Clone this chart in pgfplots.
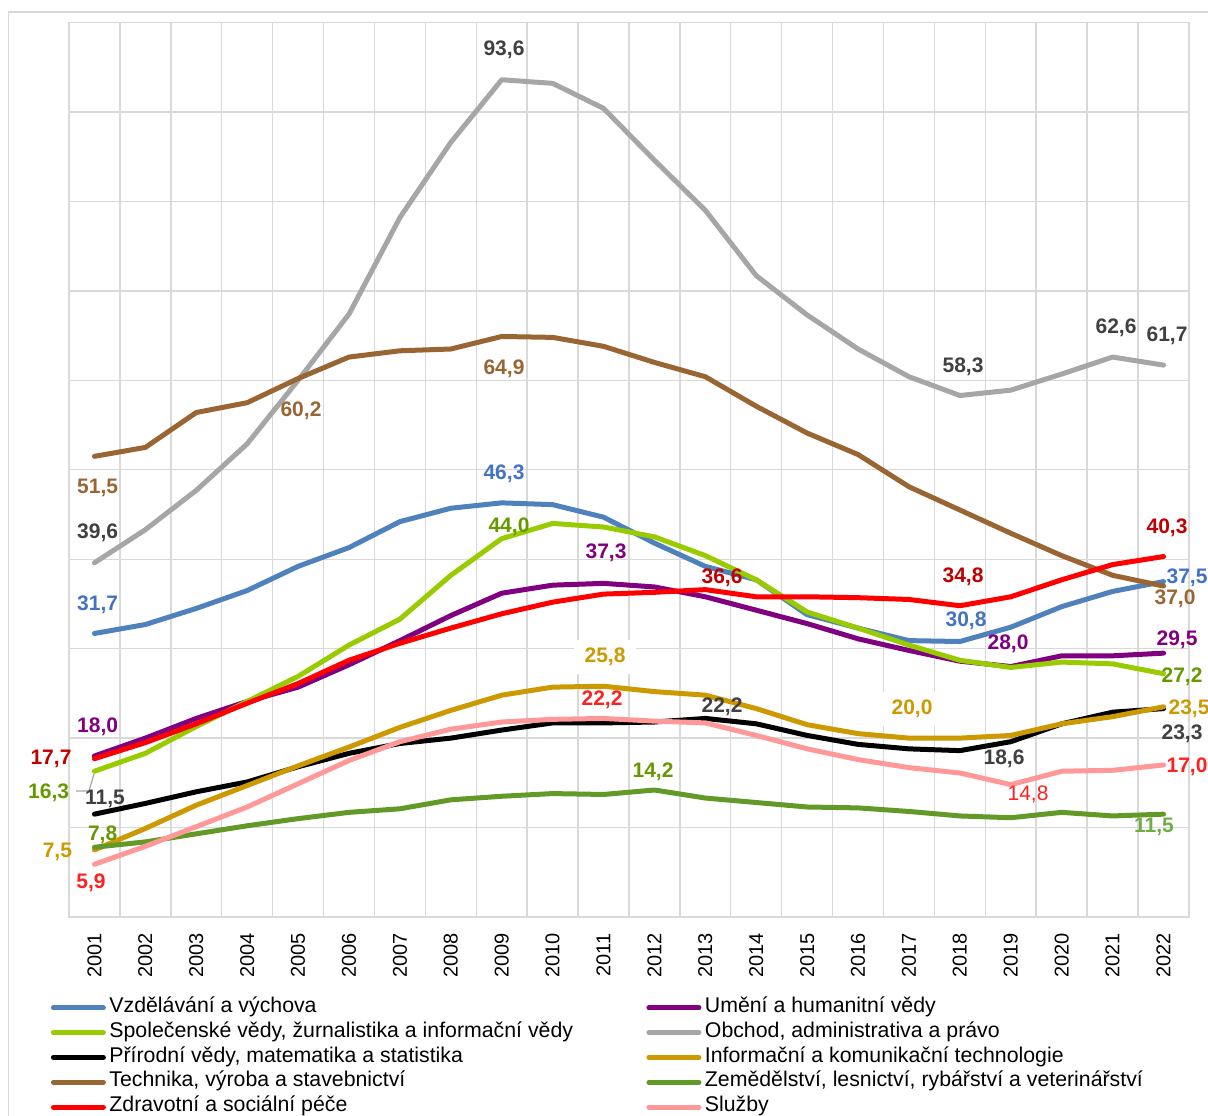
\documentclass[border=0pt]{standalone}
\usepackage{fontspec}
\setmainfont{Liberation Sans}
\usepackage{pgfplots}
\pgfplotsset{compat=1.18}

\definecolor{gridgray}{RGB}{217,217,217}
\definecolor{cBlue}{RGB}{79,129,189}
\definecolor{cPurple}{RGB}{128,0,128}
\definecolor{cLGreen}{RGB}{153,204,0}
\definecolor{cGray}{RGB}{166,166,166}
\definecolor{cBlack}{RGB}{0,0,0}
\definecolor{cGold}{RGB}{204,153,0}
\definecolor{cBrown}{RGB}{153,102,51}
\definecolor{cDGreen}{RGB}{99,153,38}
\definecolor{cRed}{RGB}{255,0,0}
\definecolor{cPink}{RGB}{255,153,153}
\definecolor{lBlue}{RGB}{68,114,196}
\definecolor{lDark}{RGB}{64,64,64}
\definecolor{lOlive}{RGB}{102,153,0}
\definecolor{lDRed}{RGB}{192,0,0}
\definecolor{lRed}{RGB}{255,32,32}
\definecolor{lGreen}{RGB}{112,173,71}

\begin{document}
\begin{tikzpicture}
\path[use as bounding box] (0,0) rectangle (604pt,-557.5pt);
\begin{axis}[
  at={(34.5pt,-11.25pt)}, anchor=north west,
  scale only axis, width=560pt, height=447.25pt,
  xmin=2000.5, xmax=2022.5, ymin=0, ymax=100,
  xtick={2001,...,2022},
  xticklabels={2001,2002,2003,2004,2005,2006,2007,2008,2009,2010,2011,2012,2013,2014,2015,2016,2017,2018,2019,2020,2021,2022},
  xticklabel style={rotate=90, anchor=east, inner sep=0pt, font=\fontsize{10}{12}\selectfont},
  xticklabel shift=8pt,
  minor xtick={2000.5,2001.5,...,2022.5},
  xminorgrids=true, xmajorgrids=false,
  ytick={0,10,...,100}, yticklabels={}, ymajorgrids=true,
  major tick length=0pt, minor tick length=0pt,
  axis line style={draw=gridgray, line width=0.7pt},
  grid style={draw=gridgray, line width=0.7pt},
  minor grid style={draw=gridgray, line width=0.7pt},
  every axis plot/.append style={line width=2.5pt, line join=round, line cap=round, no markers},
  legend columns=2,
  legend cell align=left,
  legend image code/.code={\draw[#1, line width=2.5pt, line cap=round] (0pt,0pt) -- (25pt,0pt);},
  legend style={at={(axis description cs:-0.0165,-0.0872)}, anchor=north west,
    draw=none, fill=none, inner sep=0pt, row sep=0pt,
    font=\fontsize{10.65}{12.6}\selectfont,
    nodes={inner sep=0pt, text height=8.5pt, text depth=3.9pt},
    /tikz/every odd column/.append style={column sep=1.75pt},
    /tikz/every even column/.append style={column sep=0pt}},
]
% Vzdělávání a výchova
\addplot[cBlue] coordinates {(2001,31.7)(2002,32.7)(2003,34.5)(2004,36.5)(2005,39.2)(2006,41.3)(2007,44.2)(2008,45.7)(2009,46.3)(2010,46.1)(2011,44.7)(2012,41.8)(2013,39.2)(2014,37.7)(2015,33.8)(2016,32.3)(2017,30.9)(2018,30.8)(2019,32.4)(2020,34.7)(2021,36.4)(2022,37.5)};
\addlegendentry{\makebox[268.5pt][l]{Vzdělávání a výchova}}
% Umění a humanitní vědy
\addplot[cPurple] coordinates {(2001,18.0)(2002,20.0)(2003,22.2)(2004,24.1)(2005,25.7)(2006,28.2)(2007,30.9)(2008,33.7)(2009,36.2)(2010,37.1)(2011,37.3)(2012,36.9)(2013,35.8)(2014,34.3)(2015,32.8)(2016,31.1)(2017,29.8)(2018,28.6)(2019,28.0)(2020,29.2)(2021,29.2)(2022,29.5)};
\addlegendentry{Umění a humanitní vědy}
% Společenské vědy
\addplot[cLGreen] coordinates {(2001,16.3)(2002,18.3)(2003,21.3)(2004,24.1)(2005,26.9)(2006,30.4)(2007,33.3)(2008,38.2)(2009,42.3)(2010,44.0)(2011,43.6)(2012,42.5)(2013,40.4)(2014,37.7)(2015,34.1)(2016,32.3)(2017,30.4)(2018,28.7)(2019,27.9)(2020,28.5)(2021,28.3)(2022,27.2)};
\addlegendentry{\makebox[268.5pt][l]{Společenské vědy, žurnalistika a informační vědy}}
% Obchod, administrativa a právo
\addplot[cGray] coordinates {(2001,39.6)(2002,43.3)(2003,47.7)(2004,52.9)(2005,60.0)(2006,67.4)(2007,78.2)(2008,86.6)(2009,93.6)(2010,93.2)(2011,90.4)(2012,84.6)(2013,79.0)(2014,71.7)(2015,67.3)(2016,63.5)(2017,60.4)(2018,58.3)(2019,58.9)(2020,60.7)(2021,62.6)(2022,61.7)};
\addlegendentry{Obchod, administrativa a právo}
% Přírodní vědy
\addplot[cBlack] coordinates {(2001,11.5)(2002,12.7)(2003,14.0)(2004,15.1)(2005,16.8)(2006,18.3)(2007,19.4)(2008,20.0)(2009,20.9)(2010,21.7)(2011,21.7)(2012,21.8)(2013,22.2)(2014,21.6)(2015,20.3)(2016,19.3)(2017,18.8)(2018,18.6)(2019,19.6)(2020,21.6)(2021,22.9)(2022,23.3)};
\addlegendentry{\makebox[268.5pt][l]{Přírodní vědy, matematika a statistika}}
% ICT
\addplot[cGold] coordinates {(2001,7.5)(2002,9.9)(2003,12.5)(2004,14.7)(2005,16.9)(2006,19.0)(2007,21.2)(2008,23.1)(2009,24.8)(2010,25.7)(2011,25.8)(2012,25.2)(2013,24.8)(2014,23.3)(2015,21.5)(2016,20.5)(2017,20.0)(2018,20.0)(2019,20.3)(2020,21.6)(2021,22.4)(2022,23.5)};
\addlegendentry{Informační a komunikační technologie}
% Technika
\addplot[cBrown] coordinates {(2001,51.5)(2002,52.5)(2003,56.4)(2004,57.5)(2005,60.2)(2006,62.6)(2007,63.3)(2008,63.5)(2009,64.9)(2010,64.8)(2011,63.8)(2012,62.0)(2013,60.4)(2014,57.1)(2015,54.1)(2016,51.7)(2017,48.1)(2018,45.5)(2019,42.9)(2020,40.4)(2021,38.2)(2022,37.0)};
\addlegendentry{\makebox[268.5pt][l]{Technika, výroba a stavebnictví}}
% Zemědělství
\addplot[cDGreen] coordinates {(2001,7.8)(2002,8.4)(2003,9.3)(2004,10.2)(2005,11.0)(2006,11.7)(2007,12.1)(2008,13.1)(2009,13.5)(2010,13.8)(2011,13.7)(2012,14.2)(2013,13.3)(2014,12.8)(2015,12.3)(2016,12.2)(2017,11.8)(2018,11.3)(2019,11.1)(2020,11.7)(2021,11.3)(2022,11.5)};
\addlegendentry{Zemědělství, lesnictví, rybářství a veterinářství}
% Zdravotní a sociální péče
\addplot[cRed] coordinates {(2001,17.7)(2002,19.5)(2003,21.6)(2004,23.9)(2005,26.1)(2006,28.7)(2007,30.6)(2008,32.3)(2009,33.9)(2010,35.2)(2011,36.1)(2012,36.3)(2013,36.6)(2014,35.8)(2015,35.8)(2016,35.7)(2017,35.5)(2018,34.8)(2019,35.8)(2020,37.7)(2021,39.4)(2022,40.3)};
\addlegendentry{\makebox[268.5pt][l]{Zdravotní a sociální péče}}
% Služby
\addplot[cPink] coordinates {(2001,5.9)(2002,7.9)(2003,10.1)(2004,12.3)(2005,14.9)(2006,17.5)(2007,19.6)(2008,21.0)(2009,21.8)(2010,22.1)(2011,22.2)(2012,21.9)(2013,21.7)(2014,20.3)(2015,18.8)(2016,17.6)(2017,16.7)(2018,16.1)(2019,14.8)(2020,16.3)(2021,16.4)(2022,17.0)};
\addlegendentry{Služby}
\end{axis}
\begin{scope}[x=0.5pt, y=-0.5pt, every node/.style={font=\fontsize{10.5}{12}\selectfont\bfseries, inner sep=0pt}]
\draw[gridgray, line width=0.7pt] (8.5,1130) -- (8.5,12) -- (1220,12);
\draw[cGray, line width=0.6pt] (76,791) -- (89,791) -- (94,774);
% gray
\node[lDark] at (504,50) {93,6};
\node[lDark] at (97.6,533) {39,6};
\node[lDark] at (963,367) {58,3};
\node[lDark] at (1116,328) {62,6};
\node[lDark] at (1167,336) {61,7};
% brown
\node[cBrown] at (97.6,488) {51,5};
\node[cBrown] at (301,411) {60,2};
\node[cBrown] at (504,369) {64,9};
\node[cBrown] at (1175,599) {37,0};
% blue
\node[lBlue] at (97.6,605) {31,7};
\node[lBlue] at (504,474) {46,3};
\node[lBlue] at (966,621) {30,8};
\node[lBlue] at (1187,578) {37,5};
% light green
\node[lOlive] at (509,527) {44,0};
\node[lOlive] at (48.6,793) {16,3};
\node[lOlive] at (1182,677) {27,2};
% purple
\node[cPurple] at (97.6,727) {18,0};
\node[cPurple] at (606,553) {37,3};
\node[cPurple] at (1008,644) {28,0};
\node[cPurple] at (1177,640) {29,5};
% red
\node[lDRed] at (51,759) {17,7};
\node[lDRed] at (722,578) {36,6};
\node[lDRed] at (963,577) {34,8};
\node[lDRed] at (1167,528) {40,3};
% gold
\node[cGold, fill=white, inner xsep=5.5pt, inner ysep=4pt] at (605,657) {25,8};
\node[cGold, fill=white, inner xsep=5.5pt, inner ysep=4pt] at (912,709) {20,0};
\node[cGold] at (57.4,852) {7,5};
\node[cGold] at (1189,709) {23,5};
% black
\node[lDark] at (105,799) {11,5};
\node[lDark] at (722,707) {22,2};
\node[lDark] at (1004,759) {18,6};
\node[lDark] at (1182,734) {23,3};
% dark green
\node[lOlive] at (102.6,835) {7,8};
\node[lOlive] at (653,772) {14,2};
\node[lGreen] at (1154,827) {11,5};
% pink
\node[lRed] at (91,883) {5,9};
\node[lRed] at (602,700) {22,2};
\node[lRed] at (1187,767) {17,0};
\node[lRed, font=\fontsize{10.5}{12}\selectfont] at (1028,794) {14,8};
\end{scope}
\end{tikzpicture}
\end{document}
